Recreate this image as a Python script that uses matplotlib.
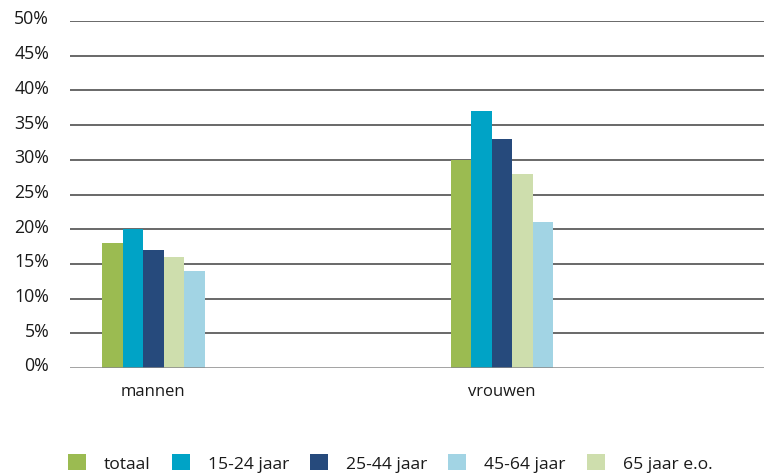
import numpy as np
import matplotlib.pyplot as plt
from matplotlib.patches import Patch
from matplotlib.transforms import ScaledTranslation

plt.rcParams['font.family'] = ['Open Sans', 'DejaVu Sans']

categories = ['mannen', 'vrouwen']
# bar order as drawn in the picture
series_names = ['totaal', '15-24 jaar', '25-44 jaar', '65 jaar e.o.', '45-64 jaar']
values = {
    'totaal': [18, 30],
    '15-24 jaar': [20, 37],
    '25-44 jaar': [17, 33],
    '65 jaar e.o.': [16, 28],
    '45-64 jaar': [14, 21],
}
legend_order = ['totaal', '15-24 jaar', '25-44 jaar', '45-64 jaar', '65 jaar e.o.']
colors = {
    'totaal': '#9bbb51',
    '15-24 jaar': '#00a3c6',
    '25-44 jaar': '#264a7c',
    '45-64 jaar': '#a2d4e4',
    '65 jaar e.o.': '#cedead',
}
yticks = np.arange(0, 51, 5)

fig = plt.figure(figsize=(7.64, 4.77), dpi=100)
ax = fig.add_axes([70 / 764, 108 / 477, 694 / 764, 347 / 477])

w = 0.0588
start = 0.092
x = np.arange(len(categories))
for j, name in enumerate(series_names):
    ax.bar(x + start + j * w, values[name], width=w, align='edge',
           color=colors[name], zorder=3, linewidth=0)

ax.set_xlim(0, 1.99)
ax.set_ylim(0, 50)
ax.set_yticks(yticks)
ax.set_yticklabels([f'{v}%' for v in yticks], fontsize=12.8, color='#1a1a1a')
ax.set_xticks(x + start + 2.5 * w)
ax.set_xticklabels(categories, fontsize=12, color='#1a1a1a')
ax.tick_params(axis='y', length=0, pad=15)
ax.tick_params(axis='x', length=0, pad=11)
shift = ScaledTranslation(0, 0.045, fig.dpi_scale_trans)
for lab in ax.get_yticklabels():
    lab.set_transform(lab.get_transform() + shift)
for v in yticks[1:]:
    ax.axhline(v, color='#404040', lw=1.1, zorder=1)
ax.axhline(0, color='#888888', lw=1.8, zorder=4)
for s in ax.spines.values():
    s.set_visible(False)

handles = [Patch(facecolor=colors[n], edgecolor='none') for n in legend_order]
fig.legend(handles, legend_order, loc='center left', bbox_to_anchor=(52 / 764, 1 - 464 / 477),
           ncol=5, frameon=False, fontsize=12.6, handlelength=1.03, handleheight=1.03,
           handletextpad=1.03, columnspacing=1.2, labelcolor='#1a1a1a')

fig.savefig('out.png', dpi=100)
